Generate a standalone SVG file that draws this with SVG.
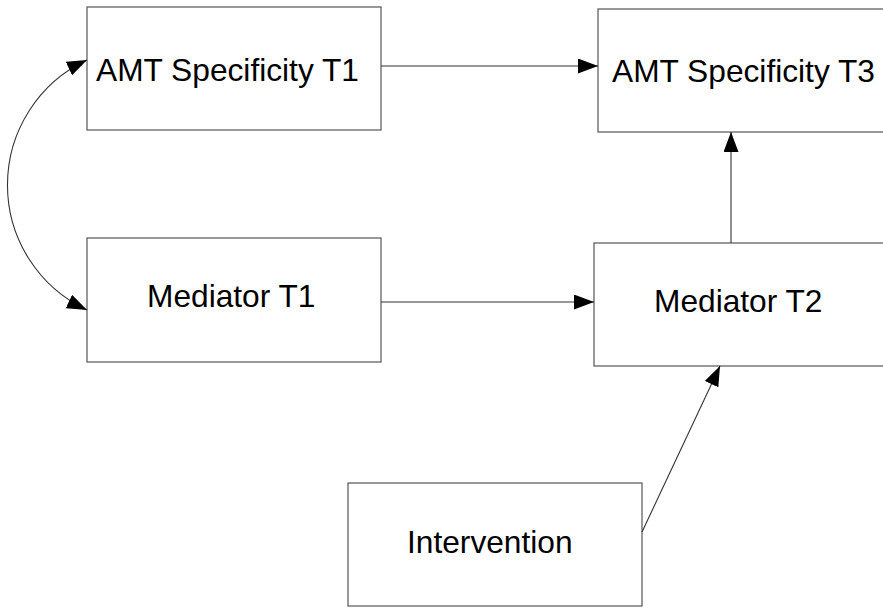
<svg xmlns="http://www.w3.org/2000/svg" width="883" height="608" viewBox="0 0 883 608">
<style>
.box{fill:#fff;stroke:#555;stroke-width:1.2}
.lbl{font-family:"Liberation Sans",Arial,sans-serif;font-size:31.7px;fill:#000}
.con{fill:none;stroke:#333;stroke-width:1.1}
</style>
<defs>
<marker id="ah" viewBox="0 0 20 15" refX="20" refY="7.5" markerWidth="20" markerHeight="15" markerUnits="userSpaceOnUse" orient="auto-start-reverse">
<path d="M0,0 L20,7.5 L0,15 Z" fill="#000"/>
</marker>
</defs>
<rect width="883" height="608" fill="#fff"/>
<g id="amt1"><rect class="box" x="87" y="7" width="294" height="123"/><text class="lbl" x="96" y="81">AMT Specificity T1</text></g>
<g id="amt3"><rect class="box" x="598" y="9" width="300" height="123"/><text class="lbl" x="612" y="82">AMT Specificity T3</text></g>
<g id="med1"><rect class="box" x="87" y="238" width="294" height="124"/><text class="lbl" x="147" y="307">Mediator T1</text></g>
<g id="med2"><rect class="box" x="594" y="243" width="300" height="123"/><text class="lbl" x="654" y="312">Mediator T2</text></g>
<g id="interv"><rect class="box" x="348" y="483" width="294" height="123"/><text class="lbl" x="407" y="553">Intervention</text></g>
<g id="connectors">
<path class="con" d="M381,66 L598,66" marker-end="url(#ah)"/>
<path class="con" d="M381,302 L594,302" marker-end="url(#ah)"/>
<path class="con" d="M731,243 L731,132" marker-end="url(#ah)"/>
<path class="con" d="M642,532 L720,366" marker-end="url(#ah)"/>
<path class="con" d="M87,60 A138,138 0 0,0 87,310" marker-start="url(#ah)" marker-end="url(#ah)"/>
</g>
</svg>
